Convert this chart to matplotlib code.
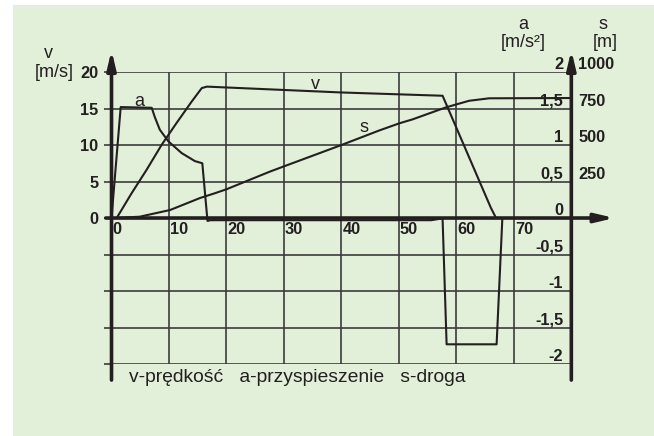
import matplotlib
matplotlib.use('Agg')
import matplotlib.pyplot as plt
from matplotlib.patches import Rectangle
from matplotlib.transforms import offset_copy

plt.rcParams['font.family'] = ['Liberation Sans', 'DejaVu Sans']

# przebiegi ruchu pojazdu: t [s]
t_v = [0.9, 3.5, 6.1, 8.7, 11.3, 13.9, 15.7, 16.6, 40.0, 57.6, 66.0, 66.9]
v = [0.0, 3.4, 6.6, 10.0, 13.0, 15.9, 17.8, 18.0, 17.2, 16.75, 1.4, 0.0]

t_a = [0.0, 1.6, 7.0, 7.5, 8.4, 9.9, 12.2, 14.5, 15.8, 16.7, 17.2,
       55.6, 57.2, 57.6, 58.3, 67.0, 68.0]
a = [0.0, 1.52, 1.51, 1.39, 1.21, 1.05, 0.89, 0.78, 0.75, -0.04, -0.03,
     -0.03, -0.01, -0.01, -1.73, -1.73, 0.0]

t_s = [0.6, 4.9, 10.2, 15.4, 18.0, 20.0, 27.5, 29.8, 40.0, 46.6, 50.1,
       52.4, 55.5, 58.2, 62.2, 65.7, 80.0]
s = [0, 9, 55, 137, 170, 197, 317, 351, 500, 600, 649,
     676, 720, 758, 803, 820, 822]

x_ticks = [0, 10, 20, 30, 40, 50, 60, 70]
v_ticks = [-20, -15, -10, -5, 0, 5, 10, 15, 20]
v_labels = ['', '', '', '', '0', '5', '10', '15', '20']
a_ticks = [-2, -1.5, -1, -0.5, 0, 0.5, 1, 1.5, 2]
a_labels = ['-2', '-1,5', '-1', '-0,5', '0', '0,5', '1', '1,5', '2']
s_ticks = [250, 500, 750, 1000]
s_labels = ['250', '500', '750', '1000']

BLACK = '#231f20'
GRID = '#3c3c3c'
BG = '#e2efd9'

fig = plt.figure(figsize=(6.54, 4.36), dpi=100)
fig.patches.append(Rectangle((13 / 654, 0), 1, 1 - 5 / 436, transform=fig.transFigure,
                             facecolor=BG, edgecolor='none', zorder=-10))

ax = fig.add_axes([0.1705, 0.1651, 0.7031, 0.6697])
ax.set_facecolor('none')
ax.set_xlim(0, 80)
ax.set_ylim(-20, 20)
for sp in ax.spines.values():
    sp.set_visible(False)

ax.set_xticks(x_ticks[1:])
ax.set_yticks(v_ticks)
ax.set_yticklabels(v_labels, fontweight='bold', fontsize=11.8, color=BLACK)
ax.tick_params(axis='x', length=0, labelbottom=False)
ax.tick_params(axis='y', length=6, width=1.2, color=GRID, pad=3.6)
ax.grid(True, color=GRID, lw=1.2)

# osie a oraz s na wspólnej osi czasu
ax_a = ax.twinx()
ax_a.set_ylim(-2, 2)
ax_a.axis('off')
ax_s = ax.twinx()
ax_s.set_ylim(-1000, 1000)
ax_s.axis('off')

kw = dict(color=BLACK, lw=1.5, solid_joinstyle='round', solid_capstyle='round')
ax.plot(t_v, v, **kw)
ax_a.plot(t_a, a, **kw)
ax_s.plot(t_s, s, **kw)

# osie ze strzałkami
arrow = dict(arrowstyle='-|>,head_length=0.55,head_width=0.13', color=BLACK, lw=2.6,
             shrinkA=0, shrinkB=0, mutation_scale=20)
for xy, xytext in [((0, 23.0), (0, -22.2)), ((80, 23.0), (80, -22.2)), ((87.5, 0), (-1.0, 0))]:
    ax_s.annotate('', xy=xy, xytext=xytext, xycoords=ax.transData, textcoords=ax.transData,
                  arrowprops=arrow, annotation_clip=False)

# etykiety osi czasu pod osią zerową
tx = offset_copy(ax.transData, fig=fig, x=1, y=-4, units='dots')
for t in x_ticks:
    ax.text(t, 0, str(t), transform=tx, ha='left', va='top',
            fontweight='bold', fontsize=11.8, color=BLACK)

# skala a po lewej stronie prawej osi
ta = offset_copy(ax_a.transData, fig=fig, x=-8, y=3, units='dots')
for val, lab in zip(a_ticks, a_labels):
    ax_a.text(80, val, lab, transform=ta, ha='right', va='baseline',
              fontweight='bold', fontsize=11.8, color=BLACK)

# skala s po prawej stronie prawej osi
ts = offset_copy(ax_s.transData, fig=fig, x=7, y=3, units='dots')
for val, lab in zip(s_ticks, s_labels):
    ax_s.text(80, val, lab, transform=ts, ha='left', va='baseline',
              fontweight='bold', fontsize=11.8, color=BLACK)

# opisy osi
unit_kw = dict(ha='center', va='center', fontsize=13, color=BLACK, clip_on=False)
ax.text(-11.05, 22.5, 'v', **unit_kw)
ax.text(-10.0, 19.9, '[m/s]', **unit_kw)
ax.text(71.6, 26.5, 'a', **unit_kw)
ax.text(71.65, 24.1, '[m/s²]', **unit_kw)
ax.text(85.5, 26.5, 's', **unit_kw)
ax.text(85.9, 24.1, '[m]', **unit_kw)

# podpisy krzywych
ax.text(35.4, 18.3, 'v', **unit_kw)
ax_a.text(4.75, 1.60, 'a', **unit_kw)
ax_s.text(44.0, 620, 's', **unit_kw)

ax.text(3.1, -22.5, 'v-prędkość   a-przyspieszenie   s-droga', ha='left', va='baseline',
        fontsize=13.9, color=BLACK, clip_on=False)

fig.savefig('out.png', dpi=100)
